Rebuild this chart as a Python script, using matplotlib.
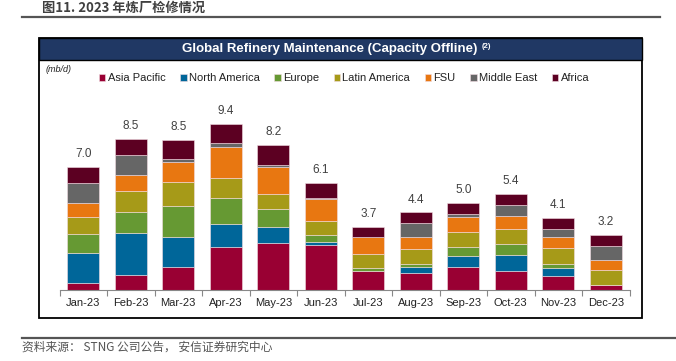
import matplotlib
matplotlib.use('Agg')
import matplotlib.pyplot as plt
from matplotlib.patches import Rectangle
from matplotlib.lines import Line2D
import numpy as np

# Data (mb/d)
months = ['Jan-23', 'Feb-23', 'Mar-23', 'Apr-23', 'May-23', 'Jun-23',
          'Jul-23', 'Aug-23', 'Sep-23', 'Oct-23', 'Nov-23', 'Dec-23']
asia_pacific = [0.42, 0.83, 1.32, 2.43, 2.64, 2.55, 1.06, 0.98, 1.28, 1.08, 0.81, 0.26]
north_america = [1.66, 2.38, 1.66, 1.28, 0.92, 0.15, 0.00, 0.32, 0.64, 0.91, 0.45, 0.00]
europe = [1.09, 1.23, 1.77, 1.49, 1.04, 0.42, 0.17, 0.19, 0.53, 0.64, 0.23, 0.00]
latin_america = [0.98, 1.19, 1.38, 1.15, 0.83, 0.79, 0.79, 0.81, 0.85, 0.83, 0.87, 0.85]
fsu = [0.75, 0.89, 1.09, 1.72, 1.55, 1.26, 0.96, 0.72, 0.81, 0.74, 0.62, 0.60]
middle_east = [1.17, 1.13, 0.19, 0.23, 0.09, 0.04, 0.00, 0.75, 0.19, 0.60, 0.45, 0.77]
africa = [0.87, 0.89, 1.08, 1.09, 1.13, 0.87, 0.60, 0.62, 0.64, 0.62, 0.64, 0.64]
totals = [7.0, 8.5, 8.5, 9.4, 8.2, 6.1, 3.7, 4.4, 5.0, 5.4, 4.1, 3.2]

series = [
    ('Asia Pacific', asia_pacific, '#990033'),
    ('North America', north_america, '#006699'),
    ('Europe', europe, '#669933'),
    ('Latin America', latin_america, '#A69A18'),
    ('FSU', fsu, '#E87711'),
    ('Middle East', middle_east, '#666666'),
    ('Africa', africa, '#5C0022'),
]

W, H = 676, 361
plt.rcParams['font.family'] = ['Liberation Sans', 'Noto Sans CJK SC', 'DejaVu Sans']

fig = plt.figure(figsize=(W / 100, H / 100), dpi=100, facecolor='white')


def fx(px):
    return px / W


def fy(py):
    return 1 - py / H


# Page title
fig.text(fx(42), fy(12), '图11. 2023 年炼厂检修情况', fontsize=9.5, fontweight='bold',
         color='#404040', family=['Noto Sans CJK SC', 'DejaVu Sans'], va='baseline')
fig.add_artist(Line2D([fx(22), fx(660)], [fy(17), fy(17)], color='#555555', lw=1.6))

# Chart frame and header bar
fig.add_artist(Rectangle((fx(39), fy(318)), fx(642) - fx(39), fy(38) - fy(318),
                         transform=fig.transFigure, facecolor='white',
                         edgecolor='black', lw=1.3, zorder=0))
fig.add_artist(Rectangle((fx(39), fy(60)), fx(642) - fx(39), fy(38) - fy(60),
                         transform=fig.transFigure, facecolor='#203864',
                         edgecolor='black', lw=1.0, zorder=1))
fig.text(fx(330), fy(49), 'Global Refinery Maintenance (Capacity Offline)',
         color='white', fontsize=9.5, fontweight='bold', ha='center', va='center')
fig.text(fx(482), fy(47), '(2)', color='white', fontsize=5.5, fontweight='bold',
         ha='left', va='center')
fig.text(fx(46), fy(70), '(mb/d)', fontsize=6.5, style='italic', color='#222222',
         va='center')

ax = fig.add_axes([fx(59.5), fy(290), fx(629.5) - fx(59.5), fy(113.4) - fy(290)])
ax.set_facecolor('none')

x = np.arange(len(months))
bottom = np.zeros(len(months))
for name, vals, color in series:
    ax.bar(x, vals, width=0.67, bottom=bottom, color=color, label=name,
           edgecolor='#f2dde3', linewidth=0.4)
    bottom += np.array(vals)

for xi, top, lab in zip(x, bottom, totals):
    ax.annotate(f'{lab:.1f}', (xi, top), xytext=(0, 5), textcoords='offset points',
                ha='center', va='bottom', fontsize=8.5, color='#404040')

ax.set_xlim(-0.5, len(months) - 0.5)
ax.set_ylim(0, 10)
ax.set_yticks([])
for s in ['top', 'left', 'right']:
    ax.spines[s].set_visible(False)
ax.spines['bottom'].set_color('#888888')
ax.spines['bottom'].set_linewidth(0.8)

ax.set_xticks(x)
ax.set_xticklabels(months, fontsize=8, color='#222222')
ax.tick_params(axis='x', length=0, pad=6)
ax.set_xticks(np.arange(-0.5, len(months), 1.0), minor=True)
ax.tick_params(axis='x', which='minor', length=4, color='#888888', width=0.8)

leg = ax.legend(loc='center', bbox_to_anchor=(fx(344), fy(78)),
                bbox_transform=fig.transFigure, ncol=7, frameon=False,
                fontsize=8, handlelength=0.6, handleheight=0.6,
                handletextpad=0.2, columnspacing=1.3, borderaxespad=0)
for t in leg.get_texts():
    t.set_color('#222222')

# Source footer
fig.add_artist(Line2D([fx(22), fx(676)], [fy(338), fy(338)], color='#555555', lw=1.6))
fig.text(fx(22), fy(347), '资料来源： STNG 公司公告， 安信证券研究中心', fontsize=8.5,
         color='#555555', family=['Noto Sans CJK SC', 'DejaVu Sans'], va='center')

fig.savefig('out.png', dpi=100, facecolor='white')
